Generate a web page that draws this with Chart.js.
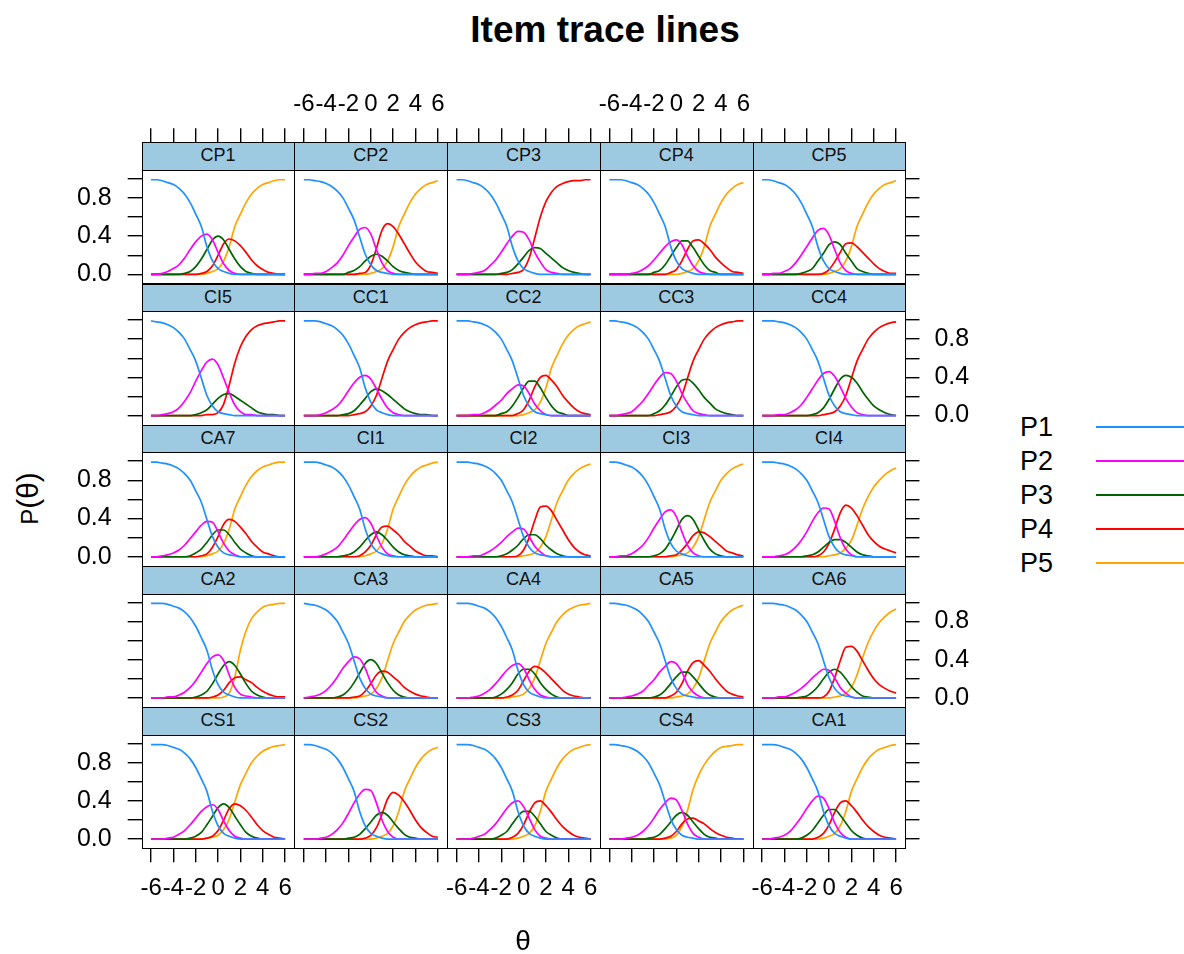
<!DOCTYPE html>
<html>
<head>
<meta charset="utf-8">
<script src="https://cdn.jsdelivr.net/npm/chart.js@4.4.1/dist/chart.umd.min.js"></script>
<style>
  body { margin: 0; background: #fff; font-family: "Liberation Sans", Arial, sans-serif; }
  #page { position: relative; width: 1184px; height: 954px; overflow: hidden; background: #fff; }
  canvas { position: absolute; }
  .frame { position: absolute; border: 1px solid #000; box-sizing: border-box; pointer-events: none; }
  .strip { position: absolute; background: #9ecae1; border-bottom: 1px solid #000; box-sizing: border-box;
           text-align: center; font-size: 18px; color: #111; }
  .txt { position: absolute; white-space: nowrap; color: #000; }
</style>
</head>
<body>
<div id="page"></div>
<script>
// theta grid and axis ticks
const theta = [-6,-5.5,-5,-4.5,-4,-3.5,-3,-2.5,-2,-1.5,-1,-0.5,0,0.5,1,1.5,2,2.5,3,3.5,4,4.5,5,5.5,6];
const xTickVals = [-6,-4,-2,0,2,4,6];
const yTickVals = [0,0.2,0.4,0.6,0.8,1.0];
const yLabelVals = [0,0.4,0.8];
const seriesNames = ['P1','P2','P3','P4','P5'];
const seriesColors = ['#1e90ff','#ff00ff','#006400','#ff0000','#ffa500'];

const panelGrid = [
  ['CP1','CP2','CP3','CP4','CP5'],
  ['CI5','CC1','CC2','CC3','CC4'],
  ['CA7','CI1','CI2','CI3','CI4'],
  ['CA2','CA3','CA4','CA5','CA6'],
  ['CS1','CS2','CS3','CS4','CA1']
];

// trace values per item (P1..P5) at the theta grid
const CP1 = [
  [.99,.99,.98,.96,.94,.90,.84,.75,.63,.50,.29,.14,.06,.03,.01,0,0,0,0,0,0,0,0,0,0],
  [0,0,.01,.03,.06,.10,.17,.26,.34,.40,.42,.36,.23,.11,.04,.01,0,0,0,0,0,0,0,0,0],
  [0,0,0,0,0,0,.01,.03,.08,.16,.26,.36,.40,.36,.26,.16,.08,.03,.01,0,0,0,0,0,0],
  [0,0,0,0,0,0,0,0,0,.01,.03,.09,.20,.32,.37,.35,.30,.23,.15,.09,.05,.02,.01,0,0],
  [0,0,0,0,0,0,0,0,0,0,.01,.03,.06,.14,.29,.50,.63,.75,.84,.90,.94,.96,.98,.99,.99]
];
const CP2 = [
  [.99,.99,.98,.97,.95,.92,.87,.80,.69,.57,.39,.21,.10,.04,.02,.01,0,0,0,0,0,0,0,0,0],
  [0,0,.01,.01,.03,.07,.12,.20,.30,.39,.47,.49,.42,.26,.12,.04,.01,0,0,0,0,0,0,0,0],
  [0,0,0,0,0,0,0,0,.02,.04,.08,.14,.19,.21,.19,.14,.08,.04,.02,.01,0,0,0,0,0],
  [0,0,0,0,0,0,0,0,0,0,.01,.02,.10,.27,.46,.53,.50,.42,.32,.22,.13,.07,.03,.02,.01],
  [0,0,0,0,0,0,0,0,0,0,0,0,.01,.03,.06,.14,.29,.50,.63,.75,.84,.90,.94,.96,.98]
];
const CP3 = [
  [.99,.99,.98,.96,.94,.90,.84,.75,.63,.50,.29,.14,.06,.03,.01,0,0,0,0,0,0,0,0,0,0],
  [0,0,0,.01,.02,.04,.09,.15,.23,.32,.40,.45,.44,.36,.23,.13,.05,.02,.01,0,0,0,0,0,0],
  [0,0,0,0,0,0,0,0,.01,.02,.05,.11,.18,.25,.28,.27,.22,.17,.12,.07,.04,.02,.01,0,0],
  [0,0,0,0,0,0,0,0,0,0,.01,.02,.05,.17,.38,.60,.76,.86,.92,.95,.97,.98,.98,.99,.99]
];
const CP4 = [
  [.99,.99,.99,.98,.96,.94,.90,.84,.75,.63,.50,.29,.14,.06,.03,.01,0,0,0,0,0,0,0,0,0],
  [0,0,0,0,.01,.02,.05,.09,.15,.22,.29,.34,.36,.31,.19,.09,.03,.01,0,0,0,0,0,0,0],
  [0,0,0,0,0,0,0,0,.02,.04,.10,.19,.28,.35,.35,.28,.19,.10,.04,.02,0,0,0,0,0],
  [0,0,0,0,0,0,0,0,0,0,0,.02,.05,.14,.26,.35,.36,.32,.26,.18,.12,.07,.03,.02,.01],
  [0,0,0,0,0,0,0,0,0,0,0,0,0,.01,.03,.06,.14,.29,.50,.63,.75,.84,.90,.94,.96]
];
const CP5 = [
  [.99,.99,.98,.96,.94,.90,.84,.75,.63,.50,.29,.14,.06,.03,.01,0,0,0,0,0,0,0,0,0,0],
  [0,0,.01,.01,.03,.06,.12,.20,.29,.38,.46,.48,.41,.26,.12,.04,.01,0,0,0,0,0,0,0,0],
  [0,0,0,0,0,0,0,.01,.03,.06,.14,.22,.31,.34,.31,.22,.14,.06,.03,.01,0,0,0,0,0],
  [0,0,0,0,0,0,0,0,0,0,0,.01,.05,.13,.23,.32,.33,.29,.23,.17,.11,.06,.03,.01,.01],
  [0,0,0,0,0,0,0,0,0,0,0,0,.01,.03,.06,.14,.29,.50,.63,.75,.84,.90,.94,.96,.98]
];
const CI5 = [
  [.99,.98,.97,.95,.92,.87,.80,.69,.57,.39,.21,.10,.04,.02,.01,0,0,0,0,0,0,0,0,0,0],
  [0,0,.01,.02,.04,.08,.15,.24,.36,.47,.56,.59,.53,.39,.24,.11,.04,.01,.01,0,0,0,0,0,0],
  [0,0,0,0,0,0,0,0,.01,.03,.06,.12,.18,.22,.23,.20,.16,.12,.08,.04,.02,.01,.01,0,0],
  [0,0,0,0,0,0,0,0,0,0,.01,.01,.03,.12,.32,.55,.72,.83,.90,.94,.96,.97,.98,.99,.99]
];
const CC1 = [
  [.99,.99,.99,.98,.96,.94,.90,.84,.75,.63,.50,.29,.14,.06,.03,.01,0,0,0,0,0,0,0,0,0],
  [0,0,0,.01,.03,.06,.10,.17,.26,.34,.40,.42,.38,.28,.17,.08,.03,.01,0,0,0,0,0,0,0],
  [0,0,0,0,0,0,0,.01,.02,.05,.11,.18,.25,.28,.26,.22,.17,.12,.07,.04,.02,.01,.01,0,0],
  [0,0,0,0,0,0,0,0,0,.01,.02,.04,.10,.21,.39,.57,.69,.80,.87,.92,.95,.97,.98,.99,.99]
];
const CC2 = [
  [.99,.99,.99,.98,.97,.95,.92,.87,.80,.69,.57,.39,.21,.10,.04,.02,.01,0,0,0,0,0,0,0,0],
  [0,0,0,.01,.01,.03,.06,.11,.16,.23,.28,.32,.31,.23,.12,.05,.01,0,0,0,0,0,0,0,0],
  [0,0,0,0,0,0,0,0,.02,.04,.10,.19,.29,.36,.36,.29,.19,.10,.04,.02,0,0,0,0,0],
  [0,0,0,0,0,0,0,0,0,0,0,.02,.06,.16,.30,.40,.42,.37,.30,.21,.14,.08,.04,.02,.01],
  [0,0,0,0,0,0,0,0,0,0,0,0,.01,.03,.06,.14,.29,.50,.63,.75,.84,.90,.94,.96,.98]
];
const CC3 = [
  [.99,.99,.98,.97,.95,.92,.87,.80,.69,.57,.39,.21,.10,.04,.02,.01,0,0,0,0,0,0,0,0,0],
  [0,0,.01,.02,.04,.09,.15,.23,.32,.40,.45,.44,.36,.23,.13,.05,.02,.01,0,0,0,0,0,0,0],
  [0,0,0,0,0,0,0,0,.02,.05,.11,.20,.30,.37,.38,.34,.27,.19,.13,.07,.04,.02,.01,0,0],
  [0,0,0,0,0,0,0,0,0,.01,.02,.04,.10,.21,.39,.57,.69,.80,.87,.92,.95,.97,.98,.99,.99]
];
const CC4 = [
  [.99,.99,.99,.98,.97,.95,.92,.87,.80,.69,.57,.39,.21,.10,.04,.02,.01,0,0,0,0,0,0,0,0],
  [0,0,0,.01,.01,.03,.06,.11,.19,.28,.37,.44,.46,.41,.30,.18,.09,.03,.01,0,0,0,0,0,0],
  [0,0,0,0,0,0,0,0,0,.01,.03,.08,.17,.28,.38,.42,.40,.34,.25,.17,.10,.06,.03,.01,0],
  [0,0,0,0,0,0,0,0,0,0,0,.01,.02,.04,.10,.21,.39,.57,.69,.80,.87,.92,.95,.97,.98]
];
const CA7 = [
  [.99,.99,.98,.97,.95,.92,.87,.80,.69,.57,.39,.21,.10,.04,.02,.01,0,0,0,0,0,0,0,0,0],
  [0,0,.01,.02,.04,.07,.12,.19,.26,.33,.37,.36,.26,.14,.06,.02,0,0,0,0,0,0,0,0,0],
  [0,0,0,0,0,0,0,.01,.04,.08,.15,.23,.28,.28,.23,.15,.08,.04,.01,0,0,0,0,0,0],
  [0,0,0,0,0,0,0,0,0,.01,.03,.10,.21,.34,.39,.37,.31,.24,.16,.10,.05,.03,.01,0,0],
  [0,0,0,0,0,0,0,0,0,0,.01,.03,.06,.14,.29,.50,.63,.75,.84,.90,.94,.96,.98,.99,.99]
];
const CI1 = [
  [.99,.99,.99,.98,.96,.94,.90,.84,.75,.63,.50,.29,.14,.06,.03,.01,0,0,0,0,0,0,0,0,0],
  [0,0,0,.01,.03,.06,.10,.17,.25,.33,.39,.41,.35,.22,.10,.03,.01,0,0,0,0,0,0,0,0],
  [0,0,0,0,0,0,0,.01,.02,.05,.10,.17,.23,.26,.23,.17,.10,.05,.02,.01,0,0,0,0,0],
  [0,0,0,0,0,0,0,0,0,0,.01,.05,.12,.23,.31,.32,.28,.23,.16,.11,.06,.03,.01,.01,0],
  [0,0,0,0,0,0,0,0,0,0,0,.01,.03,.06,.14,.29,.50,.63,.75,.84,.90,.94,.96,.98,.99]
];
const CI2 = [
  [.99,.99,.99,.98,.97,.95,.92,.87,.80,.69,.57,.39,.21,.10,.04,.02,.01,0,0,0,0,0,0,0,0],
  [0,0,0,.01,.01,.03,.06,.10,.15,.21,.26,.30,.29,.21,.11,.05,.01,0,0,0,0,0,0,0,0],
  [0,0,0,0,0,0,0,0,.01,.03,.07,.12,.19,.23,.23,.19,.12,.07,.03,.01,0,0,0,0,0],
  [0,0,0,0,0,0,0,0,0,0,0,.01,.07,.20,.38,.52,.53,.48,.38,.28,.18,.10,.05,.02,.01],
  [0,0,0,0,0,0,0,0,0,0,0,0,.01,.02,.04,.10,.21,.39,.57,.69,.80,.87,.92,.95,.97]
];
const CI3 = [
  [.99,.99,.98,.96,.94,.90,.84,.75,.63,.50,.29,.14,.06,.03,.01,0,0,0,0,0,0,0,0,0,0],
  [0,0,.01,.01,.03,.07,.12,.20,.30,.39,.47,.49,.42,.26,.12,.04,.01,0,0,0,0,0,0,0,0],
  [0,0,0,0,0,0,0,0,.01,.03,.08,.17,.28,.39,.43,.39,.28,.17,.08,.03,.01,0,0,0,0],
  [0,0,0,0,0,0,0,0,0,0,0,.01,.02,.07,.14,.22,.26,.25,.21,.16,.11,.06,.04,.02,.01],
  [0,0,0,0,0,0,0,0,0,0,0,0,.01,.02,.04,.10,.21,.39,.57,.69,.80,.87,.92,.95,.97]
];
const CI4 = [
  [.99,.99,.99,.98,.97,.95,.92,.87,.80,.69,.57,.39,.21,.10,.04,.02,.01,0,0,0,0,0,0,0,0],
  [0,0,0,.01,.02,.05,.10,.17,.26,.37,.46,.51,.50,.37,.20,.08,.02,0,0,0,0,0,0,0,0],
  [0,0,0,0,0,0,0,0,.01,.02,.05,.10,.15,.18,.18,.15,.10,.05,.02,.01,0,0,0,0,0],
  [0,0,0,0,0,0,0,0,0,0,.01,.05,.14,.29,.46,.54,.51,.43,.33,.23,.16,.11,.08,.06,.04],
  [0,0,0,0,0,0,0,0,0,0,0,0,.01,.02,.04,.09,.17,.33,.50,.63,.73,.80,.86,.90,.93]
];
const CA2 = [
  [.99,.99,.99,.98,.96,.94,.90,.84,.75,.63,.50,.29,.14,.06,.03,.01,0,0,0,0,0,0,0,0,0],
  [0,0,0,.01,.01,.03,.06,.11,.18,.27,.36,.43,.45,.39,.24,.11,.04,.02,.01,0,0,0,0,0,0],
  [0,0,0,0,0,0,0,0,.01,.03,.07,.15,.25,.34,.38,.34,.25,.15,.07,.03,.01,0,0,0,0],
  [0,0,0,0,0,0,0,0,0,0,0,.01,.03,.08,.16,.21,.22,.19,.16,.11,.07,.04,.02,.01,.01],
  [0,0,0,0,0,0,0,0,0,0,0,0,0,.01,.05,.22,.50,.70,.83,.90,.95,.97,.98,.99,.99]
];
const CA3 = [
  [.99,.98,.97,.95,.92,.87,.80,.69,.57,.39,.21,.10,.04,.02,.01,0,0,0,0,0,0,0,0,0,0],
  [0,.01,.02,.04,.08,.14,.22,.31,.38,.43,.41,.31,.16,.06,.02,0,0,0,0,0,0,0,0,0,0],
  [0,0,0,0,0,0,.01,.03,.08,.16,.26,.36,.40,.36,.26,.16,.08,.03,.01,0,0,0,0,0,0],
  [0,0,0,0,0,0,0,0,0,.01,.02,.07,.15,.24,.28,.27,.22,.17,.11,.07,.04,.02,.01,0,0],
  [0,0,0,0,0,0,0,0,0,0,.01,.02,.04,.10,.21,.39,.57,.69,.80,.87,.92,.95,.97,.98,.99]
];
const CA4 = [
  [.99,.99,.99,.98,.96,.94,.90,.84,.75,.63,.50,.29,.14,.06,.03,.01,0,0,0,0,0,0,0,0,0],
  [0,0,0,.01,.02,.05,.09,.15,.22,.29,.34,.36,.31,.19,.09,.03,.01,0,0,0,0,0,0,0,0],
  [0,0,0,0,0,0,0,.01,.04,.09,.16,.25,.30,.30,.25,.16,.09,.04,.01,0,0,0,0,0,0],
  [0,0,0,0,0,0,0,0,0,.01,.03,.08,.18,.28,.33,.31,.26,.20,.14,.08,.04,.02,.01,0,0],
  [0,0,0,0,0,0,0,0,0,0,.01,.02,.04,.10,.21,.39,.57,.69,.80,.87,.92,.95,.97,.98,.99]
];
const CA5 = [
  [.99,.99,.98,.97,.95,.92,.87,.80,.69,.57,.39,.21,.10,.04,.02,.01,0,0,0,0,0,0,0,0,0],
  [0,0,0,.01,.02,.04,.07,.13,.19,.27,.33,.38,.36,.27,.14,.06,.02,0,0,0,0,0,0,0,0],
  [0,0,0,0,0,0,0,0,.01,.03,.08,.15,.22,.27,.27,.22,.15,.08,.03,.01,0,0,0,0,0],
  [0,0,0,0,0,0,0,0,0,0,0,.02,.06,.15,.28,.37,.39,.34,.28,.20,.13,.07,.04,.02,.01],
  [0,0,0,0,0,0,0,0,0,0,0,0,.01,.02,.04,.10,.21,.39,.57,.69,.80,.87,.92,.95,.97]
];
const CA6 = [
  [.99,.99,.99,.98,.97,.95,.92,.87,.80,.69,.57,.39,.21,.10,.04,.02,.01,0,0,0,0,0,0,0,0],
  [0,0,0,.01,.01,.03,.06,.10,.15,.21,.26,.30,.29,.21,.11,.05,.01,0,0,0,0,0,0,0,0],
  [0,0,0,0,0,0,0,.01,.02,.06,.12,.20,.27,.30,.27,.20,.12,.06,.02,.01,0,0,0,0,0],
  [0,0,0,0,0,0,0,0,0,0,0,.01,.07,.21,.39,.53,.54,.49,.39,.29,.20,.14,.10,.07,.05],
  [0,0,0,0,0,0,0,0,0,0,0,0,0,.01,.02,.05,.11,.24,.42,.58,.70,.79,.85,.90,.93]
];
const CS1 = [
  [.99,.99,.99,.98,.96,.94,.90,.84,.75,.63,.50,.29,.14,.06,.03,.01,0,0,0,0,0,0,0,0,0],
  [0,0,0,.01,.02,.05,.09,.15,.22,.29,.34,.36,.31,.19,.09,.03,.01,0,0,0,0,0,0,0,0],
  [0,0,0,0,0,0,0,.01,.03,.07,.15,.24,.33,.37,.33,.24,.15,.07,.03,.01,0,0,0,0,0],
  [0,0,0,0,0,0,0,0,0,0,.01,.03,.09,.20,.32,.37,.35,.30,.23,.15,.09,.05,.02,.01,0],
  [0,0,0,0,0,0,0,0,0,0,.01,.02,.04,.10,.21,.39,.57,.69,.80,.87,.92,.95,.97,.98,.99]
];
const CS2 = [
  [.99,.99,.98,.96,.94,.90,.84,.75,.63,.50,.29,.14,.06,.03,.01,0,0,0,0,0,0,0,0,0,0],
  [0,0,0,.01,.02,.05,.10,.17,.27,.38,.47,.52,.51,.38,.20,.08,.02,0,0,0,0,0,0,0,0],
  [0,0,0,0,0,0,0,0,.01,.02,.05,.11,.18,.25,.28,.25,.18,.11,.05,.02,.01,0,0,0,0],
  [0,0,0,0,0,0,0,0,0,0,0,.01,.04,.12,.26,.42,.49,.46,.39,.30,.20,.12,.07,.03,.02],
  [0,0,0,0,0,0,0,0,0,0,0,0,0,.01,.03,.06,.14,.29,.50,.63,.75,.84,.90,.94,.96]
];
const CS3 = [
  [.99,.99,.99,.98,.96,.94,.90,.84,.75,.63,.50,.29,.14,.06,.03,.01,0,0,0,0,0,0,0,0,0],
  [0,0,0,.01,.03,.05,.10,.16,.24,.32,.38,.40,.34,.22,.10,.03,.01,0,0,0,0,0,0,0,0],
  [0,0,0,0,0,0,0,.01,.04,.08,.16,.24,.29,.29,.24,.16,.08,.04,.01,0,0,0,0,0,0],
  [0,0,0,0,0,0,0,0,0,0,.02,.06,.15,.28,.38,.40,.35,.28,.20,.13,.08,.04,.02,.01,0],
  [0,0,0,0,0,0,0,0,0,0,0,.01,.03,.06,.14,.29,.50,.63,.75,.84,.90,.94,.96,.98,.99]
];
const CS4 = [
  [.99,.99,.98,.97,.95,.92,.87,.80,.69,.57,.39,.21,.10,.04,.02,.01,0,0,0,0,0,0,0,0,0],
  [0,0,0,.01,.02,.04,.08,.14,.22,.31,.38,.43,.41,.30,.16,.06,.02,0,0,0,0,0,0,0,0],
  [0,0,0,0,0,0,0,.01,.02,.05,.11,.18,.25,.28,.25,.18,.11,.05,.02,.01,0,0,0,0,0],
  [0,0,0,0,0,0,0,0,0,0,.01,.03,.08,.16,.21,.22,.19,.16,.11,.07,.04,.02,.01,0,0],
  [0,0,0,0,0,0,0,0,0,0,0,.01,.04,.13,.30,.52,.67,.78,.86,.92,.96,.97,.98,.99,.99]
];
const CA1 = [
  [.99,.99,.99,.98,.96,.94,.90,.84,.75,.63,.50,.29,.14,.06,.03,.01,0,0,0,0,0,0,0,0,0],
  [0,0,.01,.02,.04,.08,.15,.23,.32,.40,.45,.43,.32,.17,.07,.02,0,0,0,0,0,0,0,0,0],
  [0,0,0,0,0,0,0,.01,.04,.09,.17,.25,.31,.31,.25,.17,.09,.04,.01,0,0,0,0,0,0],
  [0,0,0,0,0,0,0,0,0,0,.02,.06,.15,.28,.38,.40,.35,.28,.20,.13,.08,.04,.02,.01,0],
  [0,0,0,0,0,0,0,0,0,0,0,.01,.03,.06,.14,.29,.50,.63,.75,.84,.90,.94,.96,.98,.99]
];

const panelData = { CP1, CP2, CP3, CP4, CP5, CI5, CC1, CC2, CC3, CC4, CA7, CI1, CI2, CI3, CI4,
                    CA2, CA3, CA4, CA5, CA6, CS1, CS2, CS3, CS4, CA1 };

// page geometry (px)
const gridLeft = 141.7, gridTop = 142.3, colW = 152.75, rowH = 141.2, stripH = 28.7;
const xMin = -6.84, xMax = 6.84, yMin = -0.096, yMax = 1.382;
const margin = 80;
const fontFam = '"Liberation Sans", Arial, sans-serif';
const xTickFont = { family: fontFam, size: 24 };
const yTickFont = { family: fontFam, size: 25 };

const page = document.getElementById('page');

function addText(txt, css) {
  const d = document.createElement('div');
  d.className = 'txt';
  d.textContent = txt;
  Object.assign(d.style, css);
  page.appendChild(d);
  return d;
}

function tickGrid(show) {
  return { display: show, drawOnChartArea: false, drawTicks: true, tickLength: 14, color: '#000', lineWidth: 1.4 };
}

function makePanel(r, c) {
  const name = panelGrid[r][c];
  const series = panelData[name];
  const x0 = gridLeft + c * colW, y0 = gridTop + r * rowH;
  const left = Math.floor(x0 - margin), top = Math.floor(y0 - margin);
  const padL = x0 - left, padT = y0 - top;
  const w = Math.ceil(padL + colW + margin), h = Math.ceil(padT + rowH + margin);
  const padR = w - padL - colW, padB = h - padT - rowH;

  const cv = document.createElement('canvas');
  cv.width = w; cv.height = h;
  cv.style.left = left + 'px'; cv.style.top = top + 'px';
  cv.style.width = w + 'px'; cv.style.height = h + 'px';
  page.appendChild(cv);

  const xTicks = s => { s.ticks = xTickVals.map(v => ({ value: v })); };
  const yTicks = s => { s.ticks = yTickVals.map(v => ({ value: v })); };
  const yLab = v => yLabelVals.some(l => Math.abs(l - v) < 1e-9) ? v.toFixed(1) : '';

  new Chart(cv, {
    type: 'line',
    data: {
      datasets: series.map((vals, i) => ({
        label: seriesNames[i],
        data: vals.map((v, k) => ({ x: theta[k], y: v })),
        borderColor: seriesColors[i],
        borderWidth: 1.7,
        pointRadius: 0,
        fill: false,
        cubicInterpolationMode: 'monotone'
      }))
    },
    options: {
      responsive: false,
      animation: false,
      events: [],
      layout: { padding: 0 },
      plugins: { legend: { display: false }, tooltip: { enabled: false } },
      scales: {
        x: {
          type: 'linear', position: 'bottom', min: xMin, max: xMax,
          afterBuildTicks: xTicks,
          afterFit: s => { s.height = padB; },
          grid: tickGrid(r === 4), border: { display: false },
          ticks: { display: r === 4 && c % 2 === 0, autoSkip: false, maxRotation: 0, padding: 12,
                   color: '#000', font: xTickFont, callback: v => String(v) }
        },
        x2: {
          type: 'linear', position: 'top', min: xMin, max: xMax,
          afterBuildTicks: xTicks,
          afterFit: s => { s.height = padT; },
          grid: tickGrid(r === 0), border: { display: false },
          ticks: { display: r === 0 && c % 2 === 1, autoSkip: false, maxRotation: 0, padding: 10,
                   color: '#000', font: xTickFont, callback: v => String(v) }
        },
        y: {
          type: 'linear', position: 'left', min: yMin, max: yMax,
          afterBuildTicks: yTicks,
          afterFit: s => { s.width = padL; },
          grid: tickGrid(c === 0), border: { display: false },
          ticks: { display: c === 0 && r % 2 === 0, autoSkip: false, padding: 16,
                   color: '#000', font: yTickFont, callback: yLab }
        },
        y2: {
          type: 'linear', position: 'right', min: yMin, max: yMax,
          afterBuildTicks: yTicks,
          afterFit: s => { s.width = padR; },
          grid: tickGrid(c === 4), border: { display: false },
          ticks: { display: c === 4 && r % 2 === 1, autoSkip: false, padding: 15,
                   color: '#000', font: yTickFont, callback: yLab }
        }
      }
    }
  });
}

for (let r = 0; r < 5; r++) for (let c = 0; c < 5; c++) makePanel(r, c);

// strips and panel frames on top of the canvases
for (let r = 0; r < 5; r++) {
  for (let c = 0; c < 5; c++) {
    const x0 = gridLeft + c * colW, y0 = gridTop + r * rowH;
    const st = document.createElement('div');
    st.className = 'strip';
    Object.assign(st.style, { left: x0 + 'px', top: y0 + 'px', width: colW + 'px', height: stripH + 'px',
                              lineHeight: (stripH - 1) + 'px' });
    st.textContent = panelGrid[r][c];
    page.appendChild(st);
    const fr = document.createElement('div');
    fr.className = 'frame';
    Object.assign(fr.style, { left: x0 + 'px', top: y0 + 'px', width: (colW + 1) + 'px', height: (rowH + 1) + 'px' });
    page.appendChild(fr);
  }
}

// title and axis labels
addText('Item trace lines', { left: '0px', width: '1210px', textAlign: 'center', top: '10px',
  fontSize: '37px', fontWeight: 'bold', lineHeight: '40px' });
addText('θ', { left: '473px', width: '100px', textAlign: 'center', top: '925px', fontSize: '28px', lineHeight: '32px' });
const yl = document.createElement('div');
yl.className = 'txt';
yl.innerHTML = '<span style="font-size:24px">P</span><span style="font-size:30px">(θ)</span>';
Object.assign(yl.style, { left: '-20px', top: '478px', width: '100px', textAlign: 'center', lineHeight: '36px',
  transform: 'rotate(-90deg)', transformOrigin: '50% 50%' });
page.appendChild(yl);

// legend
const legendTop = 427.3, legendStep = 34;
seriesNames.forEach((nm, i) => {
  const cy = legendTop + i * legendStep;
  addText(nm, { left: '1020px', top: (cy - 16) + 'px', fontSize: '27px', lineHeight: '32px' });
  const ln = document.createElement('div');
  Object.assign(ln.style, { position: 'absolute', left: '1096px', top: (cy - 1) + 'px', width: '100px',
                            height: '2px', background: seriesColors[i] });
  page.appendChild(ln);
});
</script>
</body>
</html>
